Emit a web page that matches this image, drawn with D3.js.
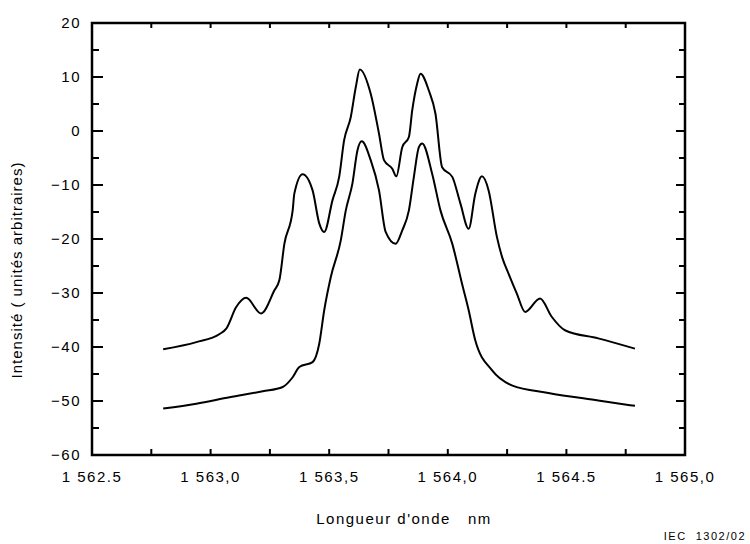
<!DOCTYPE html>
<html>
<head>
<meta charset="utf-8">
<script src="https://cdn.jsdelivr.net/npm/d3@7"></script>
<style>
  body { margin: 0; background: #fff; }
  svg { font-family: "Liberation Sans", Arial, sans-serif; }
</style>
</head>
<body>
<svg id="chart" width="750" height="544"></svg>
<script>
// wavelength (nm) / intensity pairs
var upperX = [1562.80, 1562.94, 1563.038, 1563.066, 1563.108, 1563.15, 1563.213, 1563.269, 1563.29, 1563.311, 1563.346,
  1563.353, 1563.388, 1563.43, 1563.458, 1563.479, 1563.514, 1563.542, 1563.563, 1563.591, 1563.612, 1563.629,
  1563.675, 1563.71, 1563.731, 1563.766, 1563.783, 1563.808, 1563.836, 1563.85, 1563.871, 1563.885,
  1563.92, 1563.948, 1563.976, 1564.019, 1564.053, 1564.088, 1564.116, 1564.144, 1564.172, 1564.207,
  1564.23, 1564.256, 1564.291, 1564.326, 1564.389, 1564.438, 1564.494, 1564.634, 1564.789];
var upperY = [-40.4, -39.1, -37.6, -36.6, -32.6, -30.9, -33.8, -29.5, -27.6, -20.9, -14.7,
  -11.6, -8.0, -11.0, -17.1, -18.7, -12.8, -8.5, -1.7, 2.6, 8.1, 11.4,
  6.9, -0.5, -5.4, -7.0, -8.4, -3.0, -1.1, 3.8, 8.8, 10.6,
  7.5, 3.2, -6.7, -8.5, -13.4, -18.1, -11.6, -8.4, -11.0, -19.6,
  -23.5, -26.4, -30.1, -33.5, -31.0, -34.4, -36.9, -38.4, -40.3];

var lowerX = [1562.80, 1562.94, 1563.08, 1563.22, 1563.304, 1563.346, 1563.374, 1563.43, 1563.458, 1563.479,
  1563.507, 1563.549, 1563.57, 1563.598, 1563.619, 1563.637, 1563.675, 1563.71, 1563.738, 1563.78,
  1563.808, 1563.836, 1563.857, 1563.878, 1563.892, 1563.934, 1563.969, 1564.019, 1564.06, 1564.088,
  1564.116, 1564.186, 1564.27, 1564.424, 1564.634, 1564.789];
var lowerY = [-51.4, -50.5, -49.3, -48.2, -47.4, -45.6, -43.7, -42.8, -39.4, -33.2,
  -27.0, -20.2, -14.7, -9.7, -3.6, -1.9, -5.4, -11.0, -18.7, -20.9,
  -18.4, -14.7, -8.5, -3.0, -2.3, -7.9, -14.7, -20.9, -28.3, -33.2,
  -38.8, -44.3, -47.1, -48.5, -49.9, -50.9];

var xTickValues = [1562.5, 1563.0, 1563.5, 1564.0, 1564.5, 1565.0];
var xTickLabels = ["1 562.5", "1 563,0", "1 563,5", "1 564,0", "1 564.5", "1 565,0"];
var yTickValues = [20, 10, 0, -10, -20, -30, -40, -50, -60];
var yTickLabels = ["20", "10", "0", "\u221210", "\u221220", "\u221230", "\u221240", "\u221250", "\u221260"];

var svg = d3.select('#chart');
var pLeft = 92, pRight = 685, pTop = 23, pBottom = 455;

var x = d3.scaleLinear().domain([1562.5, 1565.0]).range([pLeft, pRight]);
var y = d3.scaleLinear().domain([-60, 20]).range([pBottom, pTop]);

// inward ticks
var g = svg.append('g');
function ticks(vals, len, side) {
  vals.forEach(function (v) {
    var l = g.append('line').attr('stroke', '#000').attr('stroke-width', 2);
    if (side === 'left') l.attr('x1', pLeft).attr('x2', pLeft + len).attr('y1', y(v)).attr('y2', y(v));
    if (side === 'right') l.attr('x1', pRight).attr('x2', pRight - len).attr('y1', y(v)).attr('y2', y(v));
    if (side === 'bottom') l.attr('y1', pBottom).attr('y2', pBottom - len).attr('x1', x(v)).attr('x2', x(v));
    if (side === 'top') l.attr('y1', pTop).attr('y2', pTop + len).attr('x1', x(v)).attr('x2', x(v));
  });
}
var yMajor = d3.range(-60, 21, 10);
var yMinor = d3.range(-55, 20, 10);
var xQuarter = d3.range(1562.75, 1565, 0.25);
ticks(yMajor, 11, 'left');
ticks(yMinor, 7, 'left');
ticks(yMajor, 9, 'right');
ticks(yMinor, 6, 'right');
ticks(xQuarter, 6, 'bottom');
ticks(xQuarter, 5, 'top');

// frame
svg.append('rect')
  .attr('x', pLeft).attr('y', pTop)
  .attr('width', pRight - pLeft).attr('height', pBottom - pTop)
  .attr('fill', 'none').attr('stroke', '#000').attr('stroke-width', 2.5);

// tick labels
svg.selectAll('.yl').data(yTickValues).enter().append('text')
  .attr('x', 81).attr('y', function (d) { return y(d); })
  .attr('dy', '0.35em').attr('text-anchor', 'end')
  .attr('font-size', 15).attr('letter-spacing', 1.5)
  .text(function (d, i) { return yTickLabels[i]; });
svg.selectAll('.xl').data(xTickValues).enter().append('text')
  .attr('x', function (d) { return x(d); }).attr('y', 482)
  .attr('text-anchor', 'middle')
  .attr('font-size', 15).attr('letter-spacing', 1.5)
  .text(function (d, i) { return xTickLabels[i]; });

// axis titles
svg.append('text').attr('transform', 'translate(22,270) rotate(-90)')
  .attr('text-anchor', 'middle').attr('font-size', 15).attr('letter-spacing', 1)
  .text('Intensité ( unités arbitraires)');
svg.append('text').attr('x', 404).attr('y', 524)
  .attr('text-anchor', 'middle').attr('font-size', 15).attr('letter-spacing', 1.5)
  .attr('xml:space', 'preserve')
  .text("Longueur d'onde   nm");
svg.append('text').attr('x', 746).attr('y', 540)
  .attr('text-anchor', 'end').attr('font-size', 11).attr('letter-spacing', 1.5)
  .attr('xml:space', 'preserve')
  .text('IEC  1302/02');

// curves
var line = d3.line().curve(d3.curveMonotoneX)
  .x(function (d) { return x(d[0]); }).y(function (d) { return y(d[1]); });
[[upperX, upperY], [lowerX, lowerY]].forEach(function (s) {
  svg.append('path')
    .datum(d3.zip(s[0], s[1]))
    .attr('d', line)
    .attr('fill', 'none').attr('stroke', '#000').attr('stroke-width', 2)
    .attr('stroke-linejoin', 'round');
});
</script>
</body>
</html>
